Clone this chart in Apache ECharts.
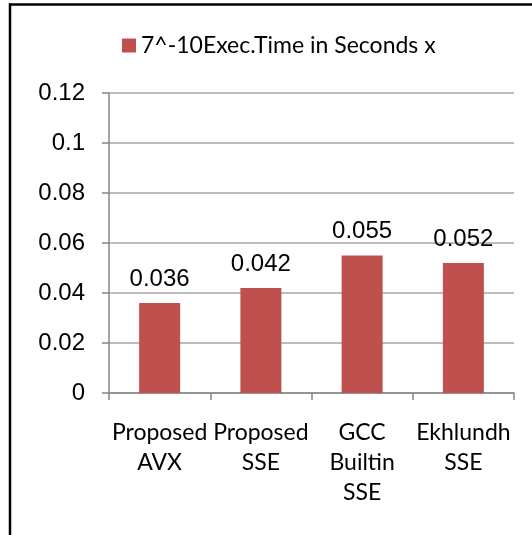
<!DOCTYPE html>
<html>
<head>
<meta charset="utf-8">
<script src="https://cdn.jsdelivr.net/npm/echarts@6/dist/echarts.min.js"></script>
<style>
  html, body { margin: 0; padding: 0; background: #fff; }
  #chart { width: 532px; height: 535px; }
</style>
</head>
<body>
<div id="chart"></div>
<script>
// Execution time per implementation (seconds x 10^-7)
const categories = ['Proposed\nAVX', 'Proposed\nSSE', 'GCC\nBuiltin\nSSE', 'Ekhlundh\nSSE'];
const execTimes = [0.036, 0.042, 0.055, 0.052];
const seriesName = '7^-10Exec.Time in Seconds x';
const yMin = 0, yMax = 0.12, yStep = 0.02;

const chart = echarts.init(document.getElementById('chart'), null, { renderer: 'canvas' });

chart.setOption({
  backgroundColor: '#ffffff',
  animation: false,
  graphic: [
    { type: 'line', shape: { x1: 9, y1: 4.5, x2: 532, y2: 4.5 }, style: { stroke: '#000', lineWidth: 2.5 }, silent: true },
    { type: 'line', shape: { x1: 10, y1: 3.5, x2: 10, y2: 535 }, style: { stroke: '#000', lineWidth: 2.5 }, silent: true }
  ],
  legend: {
    data: [seriesName],
    left: 117,
    top: 29,
    itemWidth: 14,
    itemHeight: 14,
    itemGap: 6,
    icon: 'rect',
    textStyle: { fontFamily: 'Lato', fontSize: 23, color: '#000', padding: [0, 0, 0, 0] }
  },
  grid: { left: 109, right: 18, top: 93, bottom: 142, containLabel: false },
  xAxis: {
    type: 'category',
    data: categories,
    axisLine: { lineStyle: { color: '#868686', width: 1.5 } },
    axisTick: { show: true, length: 7, lineStyle: { color: '#868686', width: 1.5 } },
    axisLabel: {
      interval: 0,
      margin: 25,
      fontFamily: 'Lato',
      fontSize: 23,
      lineHeight: 30,
      color: '#000',
      align: 'center'
    }
  },
  yAxis: {
    type: 'value',
    min: yMin,
    max: yMax,
    interval: yStep,
    axisLine: { show: true, lineStyle: { color: '#868686', width: 1.5 } },
    axisTick: { show: true, length: 7, lineStyle: { color: '#868686', width: 1.5 } },
    splitLine: { lineStyle: { color: '#a6a6a6', width: 1.5 } },
    axisLabel: {
      margin: 24,
      fontFamily: 'Liberation Sans',
      fontSize: 24,
      color: '#000',
      formatter: v => String(Math.round(v * 1000) / 1000)
    }
  },
  series: [{
    name: seriesName,
    type: 'bar',
    data: execTimes,
    barWidth: 41,
    itemStyle: { color: '#c0504d' },
    label: {
      show: true,
      position: 'top',
      distance: 12,
      fontFamily: 'Liberation Sans',
      fontSize: 24,
      color: '#000',
      formatter: p => String(p.value)
    }
  }]
});
</script>
</body>
</html>
